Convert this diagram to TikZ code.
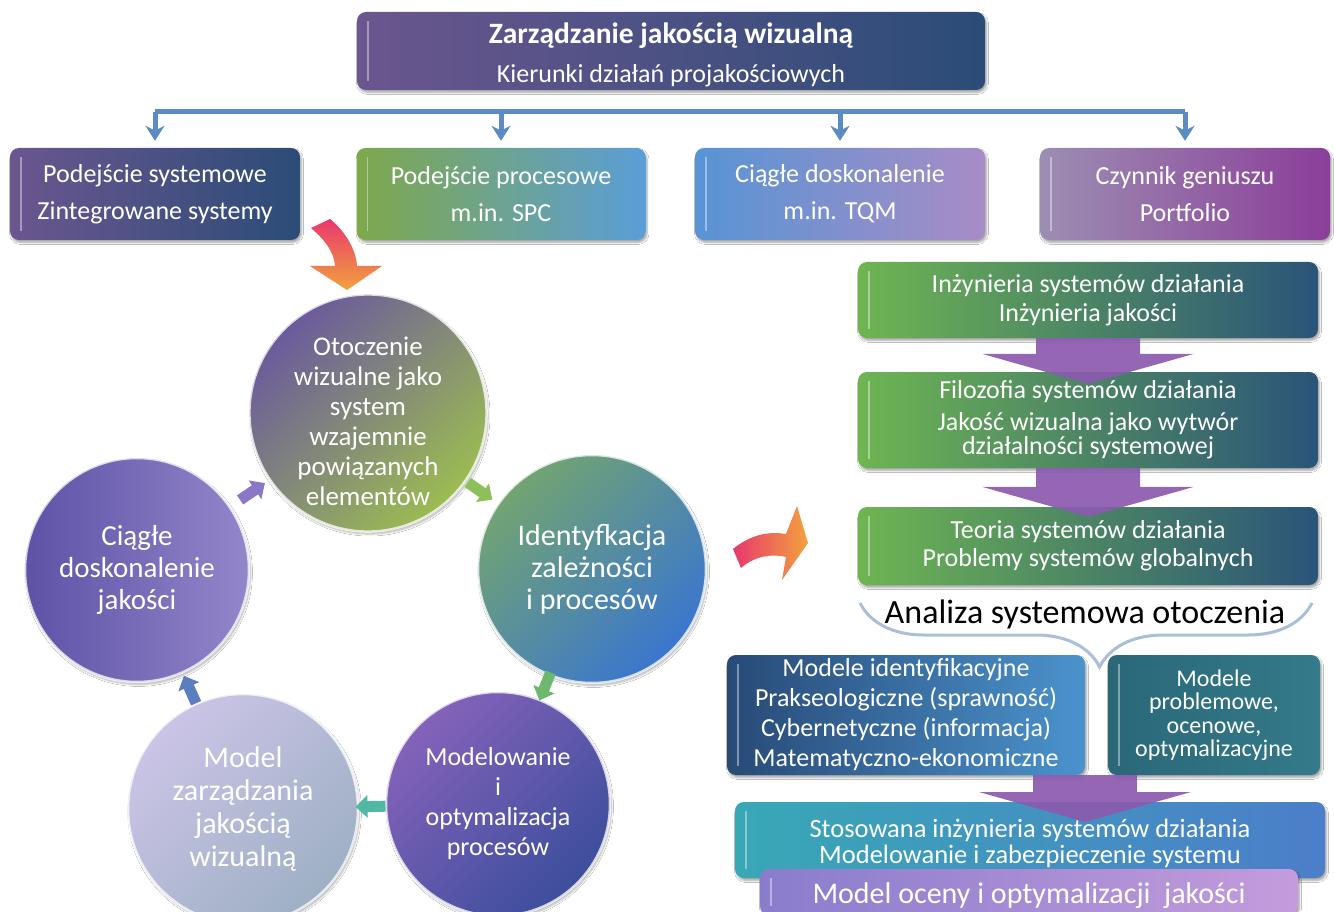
\documentclass[tikz,border=0pt]{standalone}
\usepackage{fontspec}
\setmainfont{Carlito}
\usetikzlibrary{arrows.meta,calc,shadows.blur,decorations.pathreplacing}

\definecolor{headL}{HTML}{6B568F}
\definecolor{headR}{HTML}{2B4C77}
\definecolor{procL}{HTML}{7FA84B}
\definecolor{procR}{HTML}{5A9ED8}
\definecolor{tqmL}{HTML}{5894D4}
\definecolor{tqmR}{HTML}{A88CC6}
\definecolor{genL}{HTML}{9C8EB2}
\definecolor{genR}{HTML}{8B3E99}
\definecolor{busblue}{HTML}{5B8BC4}
\definecolor{stepL}{HTML}{6EB552}
\definecolor{stepR}{HTML}{2A5478}
\definecolor{arrpurple}{HTML}{8B5AAE}
\definecolor{braceblue}{HTML}{A9BFD8}
\definecolor{idL}{HTML}{284A77}
\definecolor{idR}{HTML}{4B93CD}
\definecolor{probL}{HTML}{2A6878}
\definecolor{probR}{HTML}{347A8A}
\definecolor{appL}{HTML}{38A8B6}
\definecolor{appR}{HTML}{4C7ECA}
\definecolor{evalL}{HTML}{8A7CCC}
\definecolor{evalM}{HTML}{86A8E6}
\definecolor{evalR}{HTML}{C49CDC}
\definecolor{envA}{HTML}{6B5A9C}
\definecolor{envB}{HTML}{9CBC52}
\definecolor{identA}{HTML}{72A472}
\definecolor{identB}{HTML}{3A76CE}
\definecolor{modA}{HTML}{8462BA}
\definecolor{modB}{HTML}{3C4E9C}
\definecolor{mzjA}{HTML}{CBC4E6}
\definecolor{mzjB}{HTML}{9EB0C4}
\definecolor{cdeA}{HTML}{5C52A6}
\definecolor{cdeB}{HTML}{9486CA}
\definecolor{hotpink}{HTML}{E8386C}
\definecolor{hotorange}{HTML}{F2A23E}
\definecolor{cycgreen}{HTML}{8DC05A}
\definecolor{cycmint}{HTML}{6DB86E}
\definecolor{cycteal}{HTML}{52B8A4}
\definecolor{cycblue}{HTML}{5A7EC0}
\definecolor{cycviolet}{HTML}{8C76C8}

\begin{document}
\begin{tikzpicture}[x=1pt,y=-1pt,
    box/.style={rounded corners=9pt, text=white, align=center, inner sep=0pt,
      blur shadow={shadow xshift=1.5pt,shadow yshift=-2.5pt,shadow blur steps=6,shadow opacity=35},
      font=\fontsize{26}{37}\selectfont,
      path picture={\draw[white,opacity=.4,line width=1.5pt]
        ([xshift=11pt,yshift=-9pt]path picture bounding box.north west) --
        ([xshift=11pt,yshift=9pt]path picture bounding box.south west);}},
    ring/.style={circle, minimum size=#1, text=white, align=center, inner sep=0pt,
      draw=white, draw opacity=.75, line width=2.5pt,
      blur shadow={shadow xshift=1.5pt,shadow yshift=-2.5pt,shadow blur steps=6,shadow opacity=30}},
    bus/.style={draw=busblue, line width=5pt},
    cyc/.style={draw=#1, line width=11pt, -{Triangle[length=12pt,width=22pt]}},
    blockarrow/.style={fill=arrpurple, fill opacity=.92, to path={
        ($(\tikztostart)+(-52,0)$) -- ($(\tikztotarget)+(-52,-30)$) -- ($(\tikztotarget)+(-106,-30)$)
        -- (\tikztotarget) -- ($(\tikztotarget)+(106,-30)$) -- ($(\tikztotarget)+(52,-30)$)
        -- ($(\tikztostart)+(52,0)$) -- cycle}}
  ]
  \useasboundingbox[fill=white] (0,0) rectangle (1334,912);
  \clip (0,0) rectangle (1334,912);

  % top of the tree
  \node[box, minimum width=628pt, minimum height=78pt, left color=headL, right color=headR] (head) at (671,51)
    {{\fontsize{29.5}{40}\selectfont\bfseries\rule{0pt}{28pt}Zarządzanie jakością wizualną}\\[2pt]Kierunki działań projakościowych};

  \node[box, minimum width=290pt, minimum height=92pt, left color=headL, right color=headR] (sysbox) at (155,194)
    {Podejście systemowe\\Zintegrowane systemy};
  \node[box, minimum width=289pt, minimum height=92pt, left color=procL, right color=procR] (procbox) at (501,194)
    {Podejście procesowe\\m.in. SPC};
  \node[box, minimum width=290pt, minimum height=92pt, left color=tqmL, right color=tqmR] (tqmbox) at (840,194)
    {Ciągłe doskonalenie\\m.in. TQM};
  \node[box, minimum width=290pt, minimum height=92pt, left color=genL, right color=genR] (genbox) at (1185,194)
    {Czynnik geniuszu\\Portfolio};

  \coordinate (bus) at (671,112);
  \draw[bus] (sysbox.north |- bus) -- (genbox.north |- bus);
  \foreach \b in {sysbox,procbox,tqmbox,genbox}
    \draw[bus,-{Stealth[length=15pt,width=19pt]}] (\b.north |- bus) -- ([yshift=7pt]\b.north);

  % cycle
  \node[ring=226pt, top color=envA, bottom color=envB, shading angle=45,
        font=\fontsize{27}{30}\selectfont] (env) at (368,413)
    {\rule{0pt}{36pt}Otoczenie\\wizualne jako\\system\\wzajemnie\\powiązanych\\elementów};
  \node[ring=228pt, top color=identA, bottom color=identB, shading angle=45,
        font=\fontsize{30}{32}\selectfont] (ident) at (592,569)
    {Identyfkacja\\zależności\\i procesów};
  \node[ring=224pt, top color=modA, bottom color=modB, shading angle=45,
        font=\fontsize{26}{30}\selectfont] (modopt) at (498,804)
    {Modelowanie\\i\\optymalizacja\\procesów};
  \node[ring=230pt, top color=mzjA, bottom color=mzjB, shading angle=45,
        font=\fontsize{30}{33}\selectfont] (mzj) at (243,809)
    {Model\\zarządzania\\jakością\\wizualną};
  \node[ring=224pt, left color=cdeA, right color=cdeB,
        font=\fontsize{29}{32}\selectfont] (improve) at (137,570)
    {Ciągłe\\doskonalenie\\jakości};

  \foreach \a/\b/\c in {env/ident/cycgreen, ident/modopt/cycmint, modopt/mzj/cycteal,
                        mzj/improve/cycblue, improve/env/cycviolet}
    \draw[cyc=\c] ($(\a)!0.5!(\b)!15pt!(\a)$) -- ($(\a)!0.5!(\b)!15pt!(\b)$);

  % curved arrows
  \shade[top color=hotpink, bottom color=hotorange]
    (311,228) .. controls (325,240) and (334,252) .. (335,266) -- (310,266) -- (347,290)
    -- (382,266) -- (357,266) .. controls (356,250) and (346,232) .. (330,219) -- cycle;
  \shade[left color=hotpink, right color=hotorange]
    (733,549) .. controls (750,535) and (768,531) .. (786,534) -- (797,506) -- (808,543)
    -- (782,580) -- (786,557) .. controls (768,553) and (752,558) .. (741,568) -- cycle;

  % right column
  \node[box, minimum width=460pt, minimum height=76pt, left color=stepL, right color=stepR,
        font=\fontsize{26}{29}\selectfont] (eng) at (1088,300)
    {Inżynieria systemów działania\\Inżynieria jakości};
  \node[box, minimum width=460pt, minimum height=96pt, left color=stepL, right color=stepR,
        font=\fontsize{26}{24}\selectfont] (phil) at (1088,420)
    {Filozofia systemów działania\\[8pt]Jakość wizualna jako wytwór\\działalności systemowej};
  \node[box, minimum width=460pt, minimum height=78pt, left color=stepL, right color=stepR,
        font=\fontsize{26}{28}\selectfont] (theory) at (1088,546)
    {Teoria systemów działania\\Problemy systemów globalnych};
  \fill[blockarrow] (eng.south) to ([yshift=-12pt]phil.north);
  \fill[blockarrow] (phil.south) to ([yshift=-10pt]theory.north);

  \node[font=\fontsize{34}{40}\selectfont] (analiza) at (1085,614) {Analiza systemowa otoczenia};
  \draw[braceblue, line width=3pt, decorate, decoration={brace, amplitude=64pt, aspect=0.47}]
    (1312,603) -- (860,603);

  \node[box, minimum width=358pt, minimum height=120pt, left color=idL, right color=idR,
        font=\fontsize{26}{30}\selectfont] (identmod) at (906,715)
    {Modele identyfikacyjne\\Prakseologiczne (sprawność)\\Cybernetyczne (informacja)\\Matematyczno-ekonomiczne};
  \node[box, minimum width=212pt, minimum height=120pt, left color=probL, right color=probR,
        font=\fontsize{24}{23.5}\selectfont] (probmod) at (1214,715)
    {\lineskiplimit=-50pt \lineskip=0pt Modele\\problemowe,\\ocenowe,\\optymalizacyjne};

  \node[box, minimum width=590pt, minimum height=76pt, left color=appL, right color=appR,
        font=\fontsize{26.5}{26}\selectfont] (applied) at (1030,840)
    {\rule{0pt}{26pt}Stosowana inżynieria systemów działania\\Modelowanie i zabezpieczenie systemu};
  \coordinate (split) at (1085,775);
  \coordinate (ftip) at (1085,822);
  \fill[blockarrow] (split) to (ftip);
  \node[box, minimum width=538pt, minimum height=46pt, left color=evalL, middle color=evalM, right color=evalR,
        font=\fontsize{30}{34}\selectfont] (evalmod) at (1029,892)
    {\rule{0pt}{28pt}Model oceny i optymalizacji~ jakości};
\end{tikzpicture}
\end{document}
